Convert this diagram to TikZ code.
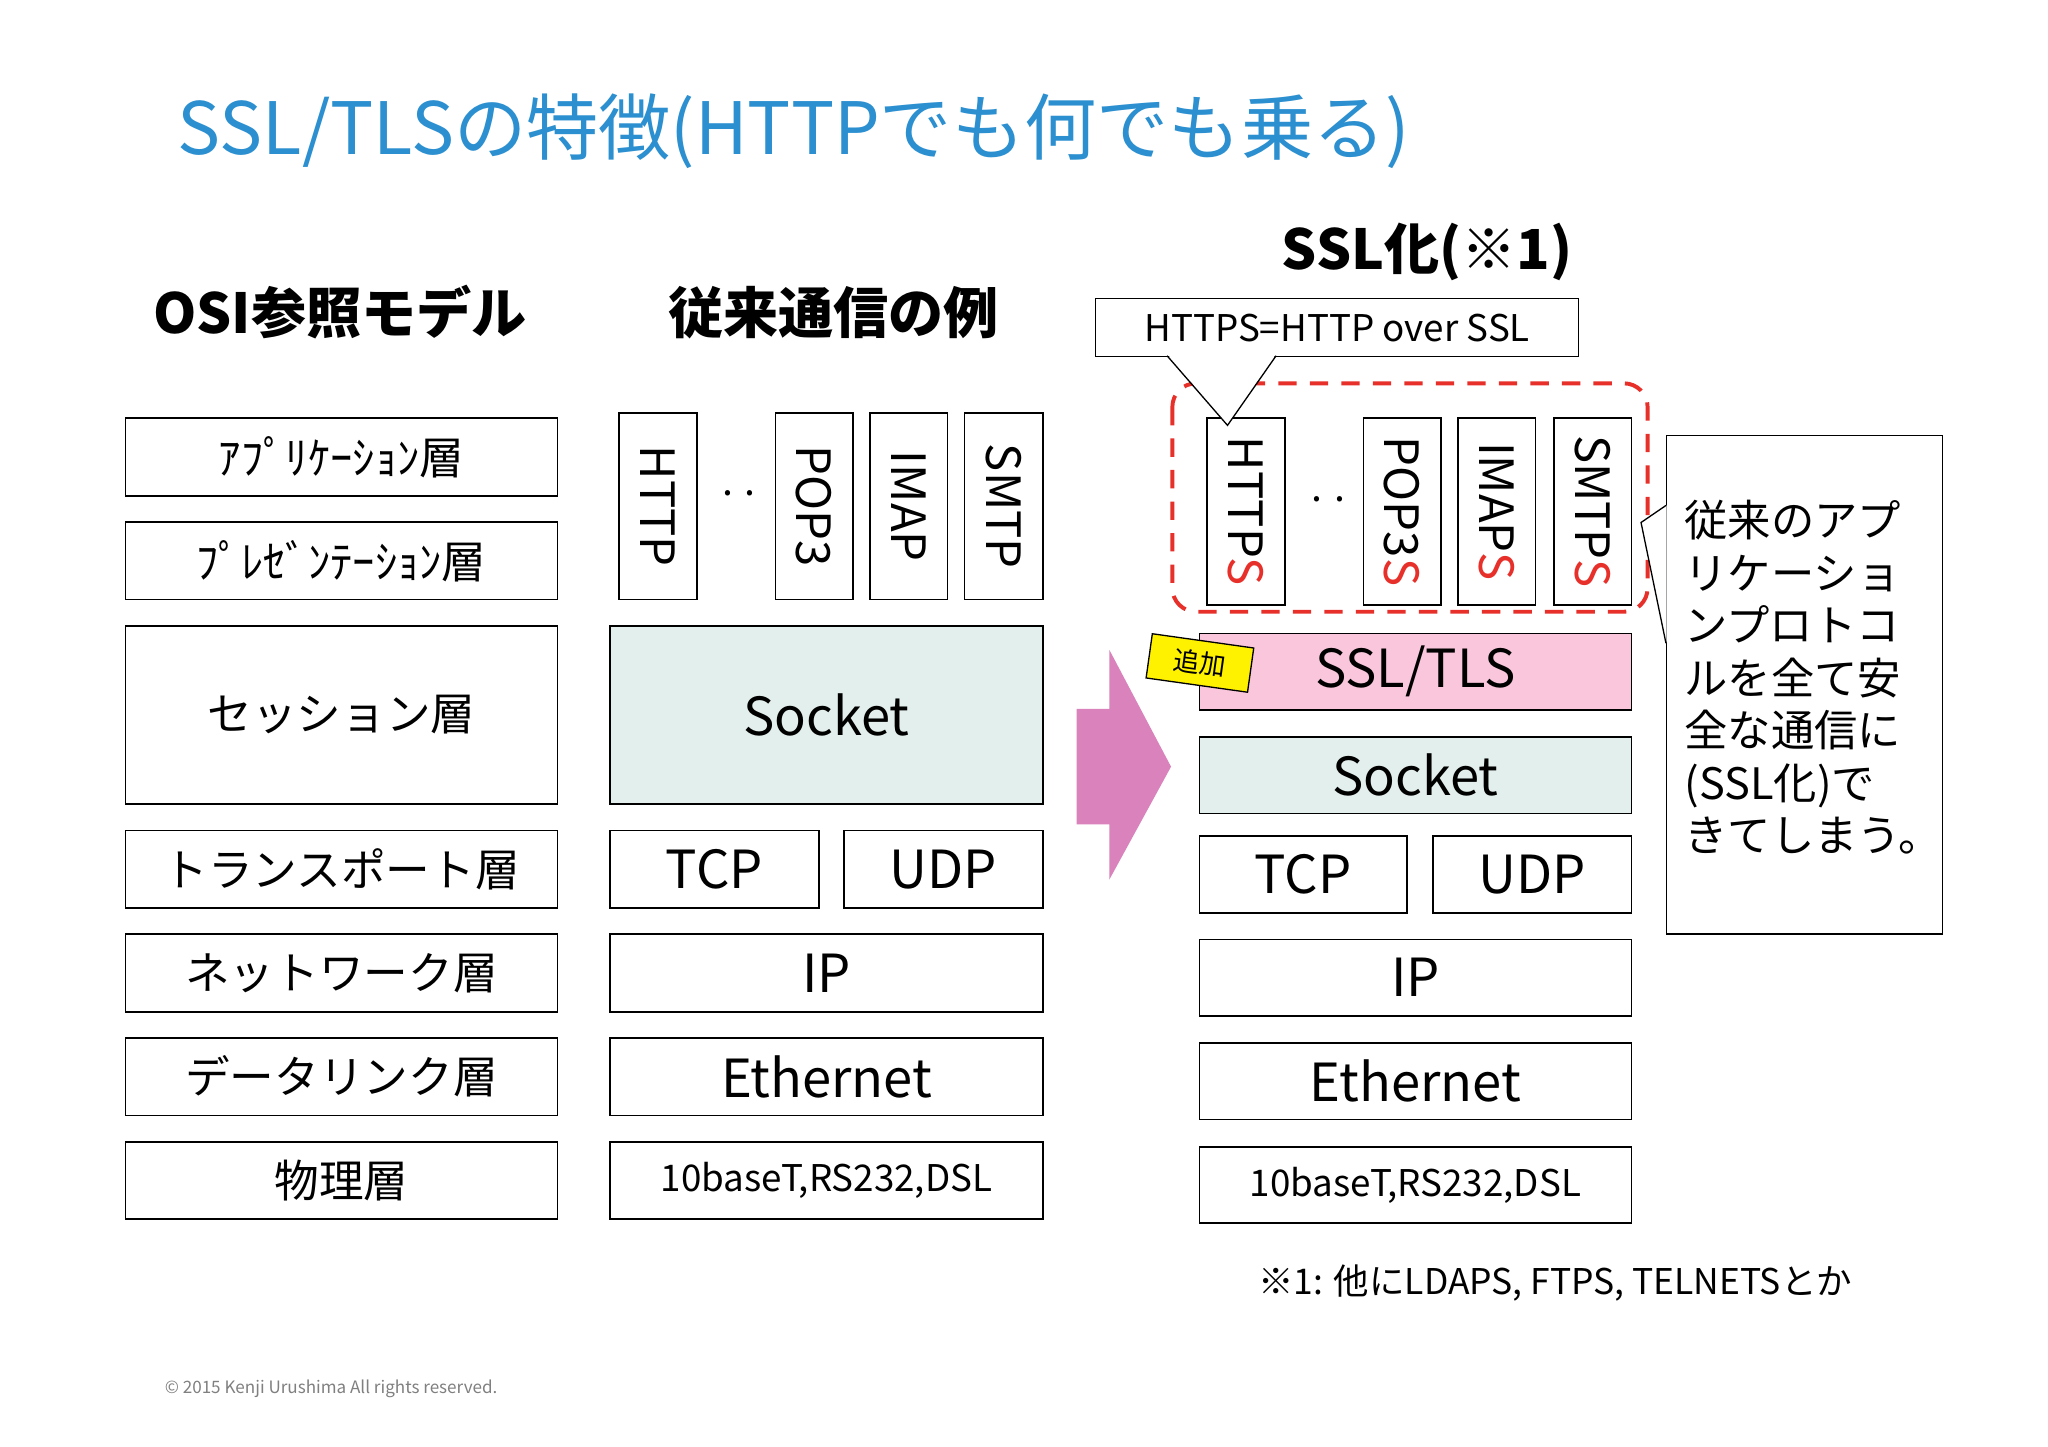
\documentclass[tikz,border=0pt]{standalone}
\usepackage{fontspec}
\setmainfont{Noto Sans CJK JP}
\usetikzlibrary{calc}
\definecolor{ttl}{HTML}{2B8FD0}
\definecolor{sock}{HTML}{E3EFEC}
\definecolor{pk}{HTML}{F9C6DC}
\definecolor{arr}{HTML}{D982BB}
\definecolor{rd}{HTML}{E8302A}
\tikzset{box/.style={draw,line width=1.3pt,anchor=north west,inner sep=0pt,font=\fontsize{34}{36}\selectfont},
hd/.style={font=\bfseries\fontsize{42}{46}\selectfont}}
\newcommand{\bx}[6]{\node[box,minimum width=#4pt-#2pt,minimum height=#5pt-#3pt] (#1) at (#2,#3) {#6};}
\newcommand{\vb}[5]{\node[box,minimum width=#4pt-#2pt,minimum height=142pt] (#1) at (#2,#3) {}; \node[rotate=-90,font=\fontsize{36}{38}\selectfont] at (#1.center) {#5};}
\begin{document}
\begin{tikzpicture}[x=1pt,y=-1pt]
\useasboundingbox[fill=white] (0,0) rectangle (1560,1102);
\begin{scope}[xshift=-3pt]
\node[anchor=west,text=ttl,font=\fontsize{55}{58}\selectfont] (title) at (135,100) {SSL/TLSの特徴(HTTPでも何でも乗る)};
\node[hd] (h1) at (262,238) {OSI参照モデル};
\node[hd] (h2) at (638,238) {従来通信の例};
\node[hd] (h3) at (1090,192) {SSL化(※1)};
% OSI
\bx{o1}{98}{318}{427}{377}{ｱﾌﾟﾘｹｰｼｮﾝ層}
\bx{o2}{98}{397}{427}{456}{ﾌﾟﾚｾﾞﾝﾃｰｼｮﾝ層}
\bx{o3}{98}{476}{427}{612}{セッション層}
\bx{o4}{98}{632}{427}{691}{トランスポート層}
\bx{o5}{98}{711}{427}{770}{ネットワーク層}
\bx{o6}{98}{790}{427}{849}{データリンク層}
\bx{o7}{98}{869}{427}{928}{物理層}
% middle
\vb{m1}{474}{314}{533}{HTTP}
\vb{m2}{593}{314}{652}{POP3}
\vb{m3}{665}{314}{724}{IMAP}
\vb{m4}{737}{314}{797}{SMTP}
\node[font=\fontsize{30}{30}\selectfont] (md) at (566,376) {. .};
\node[box,fill=sock,minimum width=330pt,minimum height=136pt,font=\fontsize{40}{42}\selectfont] (ms) at (467,476) {Socket};
\node[box,minimum width=159pt,minimum height=59pt,font=\fontsize{40}{42}\selectfont] (mt) at (467,632) {TCP};
\node[box,minimum width=152pt,minimum height=59pt,font=\fontsize{40}{42}\selectfont] (mu) at (645,632) {UDP};
\node[box,minimum width=330pt,minimum height=59pt,font=\fontsize{40}{42}\selectfont] (mi) at (467,711) {IP};
\node[box,minimum width=330pt,minimum height=59pt,font=\fontsize{40}{42}\selectfont] (me) at (467,790) {Ethernet};
\node[box,minimum width=330pt,minimum height=59pt,font=\fontsize{28}{30}\selectfont] (mb) at (467,869) {10baseT,RS232,DSL};
% arrow
\fill[arr] (823,540) -- (848,540) -- (848,495) -- (895,584) -- (848,670) -- (848,628) -- (823,628) -- cycle;
% right
\vb{r1}{922}{318}{981}{HTTP\textcolor{rd}{S}}
\vb{r2}{1041}{318}{1100}{POP3\textcolor{rd}{S}}
\vb{r3}{1113}{318}{1172}{IMAP\textcolor{rd}{S}}
\vb{r4}{1186}{318}{1245}{SMTP\textcolor{rd}{S}}
\node[font=\fontsize{30}{30}\selectfont] (rdd) at (1015,380) {. .};
\draw[rd,line width=3pt,dash pattern=on 14pt off 10pt,rounded corners=18pt] (896,292) rectangle (1258,466);
\node[box,fill=pk,minimum width=329pt,minimum height=58pt,font=\fontsize{40}{42}\selectfont] (rs) at (916,482) {SSL/TLS};
\node[draw,line width=1pt,fill=yellow,rotate=-8,minimum width=78pt,minimum height=34pt,inner sep=0pt,font=\fontsize{20}{22}\selectfont] (tag) at (917,505) {追加};
\node[box,fill=sock,minimum width=329pt,minimum height=58pt,font=\fontsize{40}{42}\selectfont] (rso) at (916,561) {Socket};
\node[box,minimum width=158pt,minimum height=59pt,font=\fontsize{40}{42}\selectfont] (rt) at (916,636) {TCP};
\node[box,minimum width=151pt,minimum height=59pt,font=\fontsize{40}{42}\selectfont] (ru) at (1094,636) {UDP};
\node[box,minimum width=329pt,minimum height=58pt,font=\fontsize{40}{42}\selectfont] (ri) at (916,715) {IP};
\node[box,minimum width=329pt,minimum height=58pt,font=\fontsize{40}{42}\selectfont] (re) at (916,794) {Ethernet};
\node[box,minimum width=329pt,minimum height=58pt,font=\fontsize{28}{30}\selectfont] (rb) at (916,873) {10baseT,RS232,DSL};
% callout top
\node[box,line width=1pt,fill=white,minimum width=368pt,minimum height=44pt,font=\fontsize{28}{30}\selectfont] (c1) at (837,227) {HTTPS=HTTP over SSL};
\coordinate (t1) at (938,324);
\fill[white] (892,269.5) -- (t1) -- (975,269.5) -- cycle;
\draw[line width=1pt] (892,271) -- (t1) -- (975,271);
% callout right
\node[box,line width=1pt,fill=white,minimum width=210pt,minimum height=380pt] (c2) at (1272,331) {};
\coordinate (t2) at (1253,398);
\fill[white] (1272.5,385) -- (t2) -- (1272.5,490) -- cycle;
\draw[line width=1pt] (1272,385) -- (t2) -- (1272,490);
\node[anchor=north west,align=left,inner sep=0pt,font=\fontsize{33}{40}\selectfont] (c2t) at (1286,381) {従来のアプ\\リケーショ\\ンプロトコ\\ルを全て安\\全な通信に\\(SSL化)で\\きてしまう。};
\node[anchor=west,font=\fontsize{27}{30}\selectfont] (fn) at (958,977) {※1: 他にLDAPS, FTPS, TELNETSとか};
\node[anchor=west,text=gray,font=\fontsize{13}{15}\selectfont] (cp) at (125,1058) {© 2015 Kenji Urushima All rights reserved.};
\end{scope}
\end{tikzpicture}
\end{document}
